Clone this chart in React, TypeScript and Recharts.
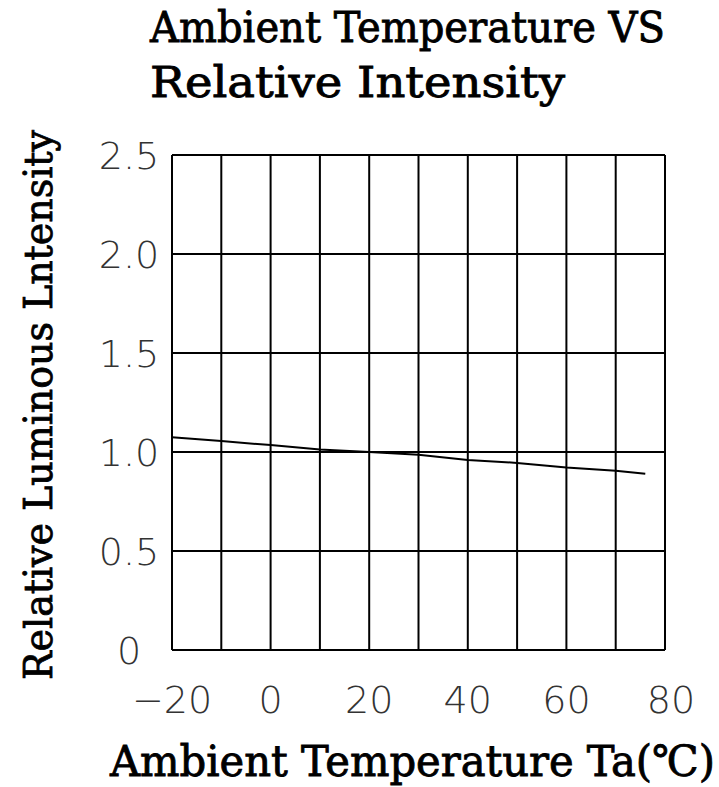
import React from "react";
import { LineChart, Line, XAxis, YAxis, CartesianGrid } from "recharts";

const temperatures = [-20, -10, 0, 10, 20, 30, 40, 50, 60, 70, 76];
const relIntensity = [1.075, 1.055, 1.035, 1.013, 1.0, 0.986, 0.96, 0.945, 0.922, 0.905, 0.89];
const xTicks = [-20, -10, 0, 10, 20, 30, 40, 50, 60, 70, 80];
const xTickLabels = [-20, 0, 20, 40, 60, 80];
const yTicks = [0, 0.5, 1.0, 1.5, 2.0, 2.5];

const titleLine1 = "Ambient Temperature VS";
const titleLine2 = "Relative Intensity";
const xLabel = "Ambient Temperature Ta(\u2103)";
const yLabel = "Relative Luminous Lntensity";

const data = temperatures.map((t, i) => ({ t, v: relIntensity[i] }));

const SERIF = "'DejaVu Serif Condensed', 'DejaVu Serif', serif";
const TICKFONT = "'DejaVu Sans', sans-serif";

const XTick = (props: any) => {
  const { x, y, payload } = props;
  if (!xTickLabels.includes(payload.value)) return null;
  const dx = payload.value === 80 ? 6 : 0;
  return (
    <text x={x + dx} y={y + 55} textAnchor="middle" fontFamily={TICKFONT} fontWeight={200} fontSize={38} fill="#333">
      {payload.value < 0 ? "\u2212" + Math.abs(payload.value) : String(payload.value)}
    </text>
  );
};

const YTick = (props: any) => {
  const { x, y, payload } = props;
  const v = payload.value;
  const s = v === 0 ? "0" : v.toFixed(1);
  return (
    <text x={x - 35} y={y + 14} textAnchor="middle" fontFamily={TICKFONT} fontWeight={200} fontSize={38} fill="#333">
      {s}
    </text>
  );
};

const labelStyle = {
  fontFamily: SERIF,
  fill: "#000",
  stroke: "#000",
  strokeWidth: 0.8,
};

export default function App() {
  return (
    <div style={{ position: "absolute", left: 0, top: 0, width: 719, height: 787, background: "#fff" }}>
      <LineChart width={719} height={787} data={data} margin={{ top: 155, right: 54, bottom: 7, left: 0 }}>
        <CartesianGrid stroke="#000" strokeWidth={2} />
        <XAxis
          type="number"
          dataKey="t"
          domain={[-20, 80]}
          ticks={xTicks}
          interval={0}
          height={130}
          tickLine={false}
          axisLine={{ stroke: "#000", strokeWidth: 2 }}
          tick={<XTick />}
        />
        <YAxis
          type="number"
          domain={[0, 2.5]}
          ticks={yTicks}
          interval={0}
          width={172}
          tickLine={false}
          axisLine={{ stroke: "#000", strokeWidth: 2 }}
          tick={<YTick />}
        />
        <Line type="linear" dataKey="v" stroke="#000" strokeWidth={2} dot={false} isAnimationActive={false} />
      </LineChart>
      <svg width={719} height={787} style={{ position: "absolute", left: 0, top: 0, pointerEvents: "none" }}>
        <text x={150} y={42} {...labelStyle} fontSize={43} textLength={515} lengthAdjust="spacingAndGlyphs">
          {titleLine1}
        </text>
        <text x={150} y={97} {...labelStyle} fontSize={43} textLength={415} lengthAdjust="spacingAndGlyphs">
          {titleLine2}
        </text>
        <text x={110} y={776} {...labelStyle} fontSize={43} textLength={605} lengthAdjust="spacingAndGlyphs">
          {xLabel}
        </text>
        <text
          x={52}
          y={405}
          transform="rotate(-90, 52, 405)"
          textAnchor="middle"
          {...labelStyle}
          fontSize={40}
          textLength={550}
          lengthAdjust="spacingAndGlyphs"
        >
          {yLabel}
        </text>
      </svg>
    </div>
  );
}
